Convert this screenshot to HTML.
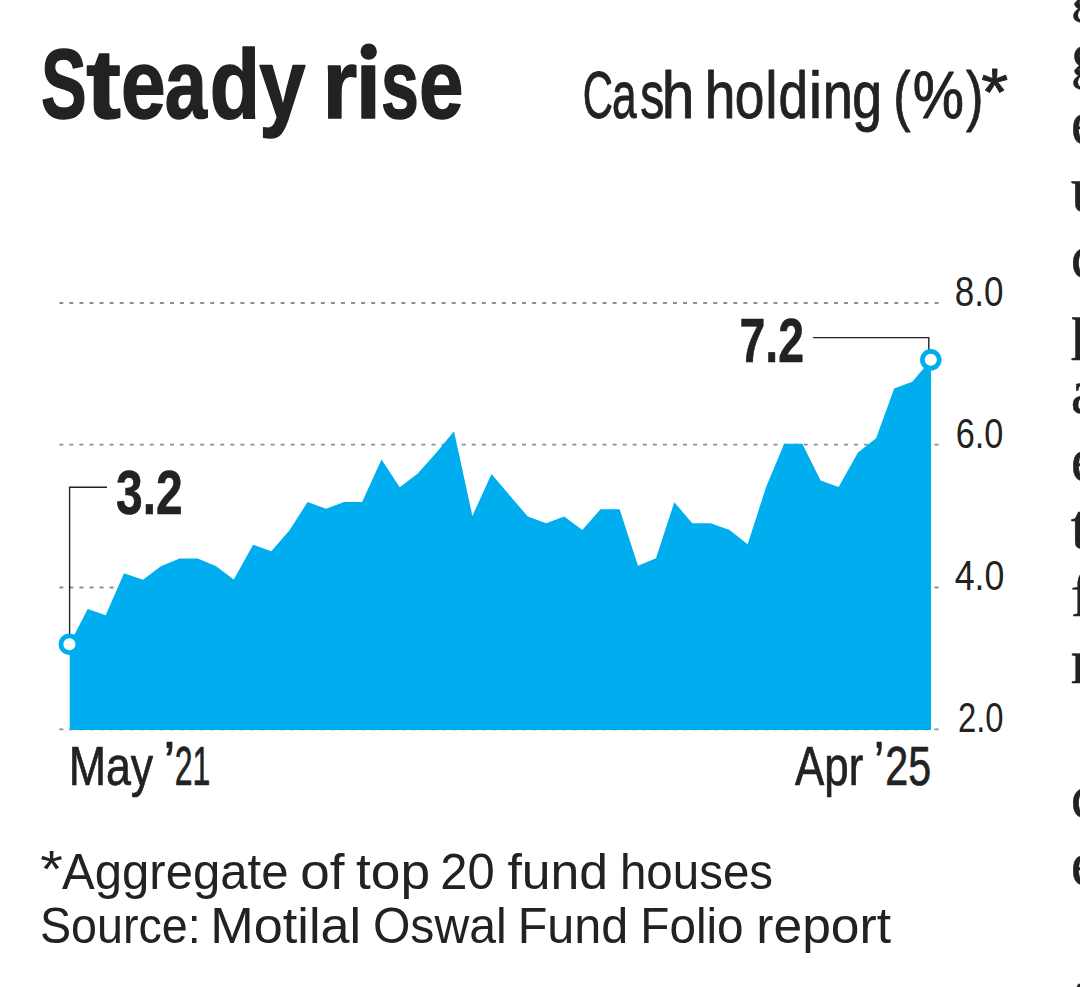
<!DOCTYPE html>
<html><head><meta charset="utf-8">
<style>
html,body{margin:0;padding:0;background:#fff;}
body{width:1080px;height:987px;overflow:hidden;position:relative;}
svg{position:absolute;left:0;top:0;}
</style></head>
<body>
<svg width="1080" height="987" viewBox="0 0 1080 987">
<g stroke="#8e8e8e" stroke-width="1.8" stroke-dasharray="4 6.06">
<line x1="59.3" y1="303" x2="940" y2="303"/>
<line x1="59.3" y1="444.7" x2="940" y2="444.7"/>
<line x1="59.3" y1="587.5" x2="940" y2="587.5"/>
<line x1="59.3" y1="729.3" x2="940" y2="729.3"/>
</g>
<polygon fill="#00adee" points="69.7,730.1 69.7,644.1 87.7,608.9 105.7,615.3 124.0,573.2 143.0,579.8 161.2,566.1 179.8,558.4 197.7,558.4 215.7,566.1 233.8,579.6 253.1,544.8 271.3,551.3 289.5,530.2 307.6,502.0 326.0,508.8 344.0,502.0 362.1,502.0 381.5,459.5 399.7,487.2 417.8,473.6 435.6,453.4 454.0,431.2 472.4,516.0 491.5,474.1 509.3,494.9 527.8,516.6 546.0,523.2 564.2,516.6 582.3,530.0 600.5,509.2 619.6,509.2 638.0,565.8 656.0,558.2 674.3,502.2 692.3,523.3 710.7,523.3 729.6,530.1 747.7,544.3 766.0,487.2 784.2,443.8 802.3,443.8 820.6,480.6 838.6,487.1 858.0,452.5 876.1,438.2 894.2,388.6 912.3,381.7 931.0,359.8 931,730.1"/>
<g stroke="#222222" stroke-width="1.4" fill="none">
<polyline points="107,487.2 69.6,487.2 69.6,634"/>
<polyline points="813,337.6 928.8,337.6 928.8,350"/>
</g>
<circle cx="69.4" cy="644.2" r="8.4" fill="#fff" stroke="#00adee" stroke-width="4.7"/>
<circle cx="930.8" cy="359.8" r="8.4" fill="#fff" stroke="#00adee" stroke-width="4.7"/>
<g font-family="Liberation Sans, sans-serif" fill="#222222">
<text x="41.05" y="118.40" font-size="97.5" font-weight="bold" textLength="45.68" lengthAdjust="spacingAndGlyphs" stroke="#222222" stroke-width="1.5" stroke-linejoin="round">S</text>
<text x="86.33" y="118.40" font-size="97.5" font-weight="bold" textLength="34.65" lengthAdjust="spacingAndGlyphs" stroke="#222222" stroke-width="1.5" stroke-linejoin="round">t</text>
<text x="120.96" y="118.40" font-size="97.5" font-weight="bold" textLength="44.66" lengthAdjust="spacingAndGlyphs" stroke="#222222" stroke-width="1.5" stroke-linejoin="round">e</text>
<text x="164.64" y="118.40" font-size="97.5" font-weight="bold" textLength="42.14" lengthAdjust="spacingAndGlyphs" stroke="#222222" stroke-width="1.5" stroke-linejoin="round">a</text>
<text x="209.71" y="118.40" font-size="97.5" font-weight="bold" textLength="50.32" lengthAdjust="spacingAndGlyphs" stroke="#222222" stroke-width="1.5" stroke-linejoin="round">d</text>
<text x="259.30" y="118.40" font-size="97.5" font-weight="bold" textLength="46.22" lengthAdjust="spacingAndGlyphs" stroke="#222222" stroke-width="1.5" stroke-linejoin="round">y</text>
<text x="322.40" y="118.40" font-size="97.5" font-weight="bold" textLength="34.72" lengthAdjust="spacingAndGlyphs" stroke="#222222" stroke-width="1.5" stroke-linejoin="round">r</text>
<text x="355.55" y="118.40" font-size="97.5" font-weight="bold" textLength="25.47" lengthAdjust="spacingAndGlyphs" stroke="#222222" stroke-width="1.5" stroke-linejoin="round">ı</text>
<text x="381.07" y="118.40" font-size="97.5" font-weight="bold" textLength="37.89" lengthAdjust="spacingAndGlyphs" stroke="#222222" stroke-width="1.5" stroke-linejoin="round">s</text>
<text x="418.88" y="118.40" font-size="97.5" font-weight="bold" textLength="44.47" lengthAdjust="spacingAndGlyphs" stroke="#222222" stroke-width="1.5" stroke-linejoin="round">e</text>
<text x="582.83" y="118.20" font-size="65.8" font-weight="normal" textLength="30.26" lengthAdjust="spacingAndGlyphs" stroke="#222222" stroke-width="0.9" stroke-linejoin="round">C</text>
<text x="611.88" y="118.20" font-size="65.8" font-weight="normal" textLength="24.61" lengthAdjust="spacingAndGlyphs" stroke="#222222" stroke-width="0.9" stroke-linejoin="round">a</text>
<text x="640.27" y="118.20" font-size="65.8" font-weight="normal" textLength="23.99" lengthAdjust="spacingAndGlyphs" stroke="#222222" stroke-width="0.9" stroke-linejoin="round">s</text>
<text x="661.71" y="118.20" font-size="65.8" font-weight="normal" textLength="32.58" lengthAdjust="spacingAndGlyphs" stroke="#222222" stroke-width="0.9" stroke-linejoin="round">h</text>
<text x="704.66" y="118.20" font-size="65.8" font-weight="normal" textLength="30.69" lengthAdjust="spacingAndGlyphs" stroke="#222222" stroke-width="0.9" stroke-linejoin="round">h</text>
<text x="734.72" y="118.20" font-size="65.8" font-weight="normal" textLength="29.63" lengthAdjust="spacingAndGlyphs" stroke="#222222" stroke-width="0.9" stroke-linejoin="round">o</text>
<text x="765.18" y="118.20" font-size="65.8" font-weight="normal" textLength="12.34" lengthAdjust="spacingAndGlyphs" stroke="#222222" stroke-width="0.9" stroke-linejoin="round">l</text>
<text x="778.58" y="118.20" font-size="65.8" font-weight="normal" textLength="29.45" lengthAdjust="spacingAndGlyphs" stroke="#222222" stroke-width="0.9" stroke-linejoin="round">d</text>
<text x="808.30" y="118.20" font-size="65.8" font-weight="normal" textLength="14.35" lengthAdjust="spacingAndGlyphs" stroke="#222222" stroke-width="0.5" stroke-linejoin="round">i</text>
<text x="822.63" y="118.20" font-size="65.8" font-weight="normal" textLength="30.10" lengthAdjust="spacingAndGlyphs" stroke="#222222" stroke-width="0.9" stroke-linejoin="round">n</text>
<text x="852.25" y="118.20" font-size="65.8" font-weight="normal" textLength="29.78" lengthAdjust="spacingAndGlyphs" stroke="#222222" stroke-width="0.9" stroke-linejoin="round">g</text>
<text x="893.14" y="118.20" font-size="65.8" font-weight="normal" textLength="17.34" lengthAdjust="spacingAndGlyphs" stroke="#222222" stroke-width="0.9" stroke-linejoin="round">(</text>
<text x="912.87" y="118.20" font-size="65.8" font-weight="normal" textLength="51.23" lengthAdjust="spacingAndGlyphs" stroke="#222222" stroke-width="0.9" stroke-linejoin="round">%</text>
<text x="965.91" y="118.20" font-size="65.8" font-weight="normal" textLength="17.53" lengthAdjust="spacingAndGlyphs" stroke="#222222" stroke-width="0.9" stroke-linejoin="round">)</text>
<text x="981.35" y="115.00" font-size="67" font-weight="normal" textLength="26.90" lengthAdjust="spacingAndGlyphs" stroke="#222222" stroke-width="0.9" stroke-linejoin="round">*</text>
<text x="115.96" y="514.40" font-size="62.5" font-weight="bold" textLength="66.75" lengthAdjust="spacingAndGlyphs" stroke="#222222" stroke-width="0.6" stroke-linejoin="round">3.2</text>
<text x="739.57" y="362.20" font-size="62.5" font-weight="bold" textLength="64.45" lengthAdjust="spacingAndGlyphs" stroke="#222222" stroke-width="0.6" stroke-linejoin="round">7.2</text>
<text x="954.66" y="305.60" font-size="43" font-weight="normal" textLength="48.71" lengthAdjust="spacingAndGlyphs">8.0</text>
<text x="955.78" y="447.90" font-size="43" font-weight="normal" textLength="47.63" lengthAdjust="spacingAndGlyphs">6.0</text>
<text x="954.72" y="589.60" font-size="43" font-weight="normal" textLength="49.68" lengthAdjust="spacingAndGlyphs">4.0</text>
<text x="957.95" y="732.00" font-size="43" font-weight="normal" textLength="45.52" lengthAdjust="spacingAndGlyphs">2.0</text>
<text x="68.65" y="784.70" font-size="55" font-weight="normal" textLength="84.59" lengthAdjust="spacingAndGlyphs" stroke="#222222" stroke-width="0.7" stroke-linejoin="round">May</text>
<text x="163.54" y="781.50" font-size="58" font-weight="normal" textLength="11.84" lengthAdjust="spacingAndGlyphs" stroke="#222222" stroke-width="0.7" stroke-linejoin="round">’</text>
<text x="174.75" y="784.70" font-size="55" font-weight="normal" textLength="35.59" lengthAdjust="spacingAndGlyphs" stroke="#222222" stroke-width="0.7" stroke-linejoin="round">21</text>
<text x="795.00" y="784.70" font-size="55" font-weight="normal" textLength="68.25" lengthAdjust="spacingAndGlyphs" stroke="#222222" stroke-width="0.7" stroke-linejoin="round">Apr</text>
<text x="874.03" y="781.50" font-size="58" font-weight="normal" textLength="10.17" lengthAdjust="spacingAndGlyphs" stroke="#222222" stroke-width="0.7" stroke-linejoin="round">’</text>
<text x="885.24" y="784.70" font-size="55" font-weight="normal" textLength="45.83" lengthAdjust="spacingAndGlyphs" stroke="#222222" stroke-width="0.7" stroke-linejoin="round">25</text>
<text x="40.22" y="886.70" font-size="51" font-weight="normal" textLength="22.61" lengthAdjust="spacingAndGlyphs">*</text>
<text x="62.00" y="888.70" font-size="50.5" font-weight="normal" textLength="226.52" lengthAdjust="spacingAndGlyphs">Aggregate</text>
<text x="300.35" y="888.70" font-size="50.5" font-weight="normal" textLength="44.20" lengthAdjust="spacingAndGlyphs">of</text>
<text x="355.96" y="888.70" font-size="50.5" font-weight="normal" textLength="74.13" lengthAdjust="spacingAndGlyphs">top</text>
<text x="440.28" y="888.70" font-size="50.5" font-weight="normal" textLength="54.35" lengthAdjust="spacingAndGlyphs">20</text>
<text x="507.47" y="888.70" font-size="50.5" font-weight="normal" textLength="100.65" lengthAdjust="spacingAndGlyphs">fund</text>
<text x="619.90" y="888.70" font-size="50.5" font-weight="normal" textLength="153.18" lengthAdjust="spacingAndGlyphs">houses</text>
<text x="39.88" y="942.50" font-size="50.5" font-weight="normal" textLength="160.81" lengthAdjust="spacingAndGlyphs">Source:</text>
<text x="210.30" y="942.50" font-size="50.5" font-weight="normal" textLength="150.89" lengthAdjust="spacingAndGlyphs">Motilal</text>
<text x="372.91" y="942.50" font-size="50.5" font-weight="normal" textLength="133.72" lengthAdjust="spacingAndGlyphs">Oswal</text>
<text x="517.71" y="942.50" font-size="50.5" font-weight="normal" textLength="110.51" lengthAdjust="spacingAndGlyphs">Fund</text>
<text x="640.25" y="942.50" font-size="50.5" font-weight="normal" textLength="103.40" lengthAdjust="spacingAndGlyphs">Folio</text>
<text x="756.39" y="942.50" font-size="50.5" font-weight="normal" textLength="134.61" lengthAdjust="spacingAndGlyphs">report</text>
<circle cx="368.7" cy="51.6" r="8.2"/>
</g>
<g font-family="Liberation Serif, serif" fill="#222222" font-size="63" font-weight="normal" stroke="#222222" stroke-width="0.4">
<text x="1070.8" y="8.62">g</text>
<text x="1070.8" y="76.06">g</text>
<text x="1070.8" y="143.50">e</text>
<text x="1070.8" y="210.94">u</text>
<text x="1070.8" y="278.38">c</text>
<text x="1070.8" y="345.82">p</text>
<text x="1070.8" y="413.26">a</text>
<text x="1070.8" y="480.70">e</text>
<text x="1070.8" y="548.14">t</text>
<text x="1070.8" y="615.58">f</text>
<text x="1070.8" y="683.02">r</text>
<text x="1070.8" y="817.90">c</text>
<text x="1070.8" y="885.34">e</text>
<text x="1070.8" y="1020.22">t</text>
</g>
</svg>
</body></html>
